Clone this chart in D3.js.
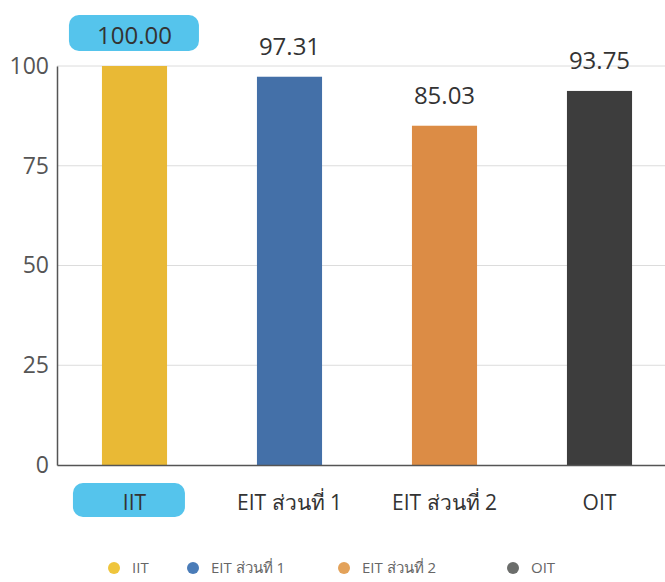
<!DOCTYPE html>
<html>
<head>
<meta charset="utf-8">
<script src="https://cdn.jsdelivr.net/npm/d3@7"></script>
<style>
  body { margin: 0; background: #fff; }
  text { font-family: "Open Sans", "Noto Sans", sans-serif; }
</style>
</head>
<body>
<div id="wrapper"></div>
<script>
// data
const categories = ["IIT", "EIT ส่วนที่ 1", "EIT ส่วนที่ 2", "OIT"]
const scores = [100.00, 97.31, 85.03, 93.75]
const barColors = ["#e9b935", "#4470a8", "#dc8c45", "#3d3d3d"]
const legendColors = ["#efc53c", "#4a7cb8", "#e3a25a", "#6b6d6b"]
const yTicks = [0, 25, 50, 75, 100]

const dimensions = {
  width: 665,
  height: 582,
  margin: { top: 66, right: 0, bottom: 117, left: 57 },
}
dimensions.boundedWidth = dimensions.width - dimensions.margin.left - dimensions.margin.right
dimensions.boundedHeight = dimensions.height - dimensions.margin.top - dimensions.margin.bottom

const wrapper = d3.select("#wrapper")
  .append("svg")
    .attr("width", dimensions.width)
    .attr("height", dimensions.height)

const bounds = wrapper.append("g")
  .attr("transform", `translate(${dimensions.margin.left},${dimensions.margin.top})`)

// scales
const xScale = d3.scaleBand()
  .domain(categories)
  .range([0, 620])
  .paddingInner(0.58)
  .paddingOuter(0.29)

const yScale = d3.scaleLinear()
  .domain([0, 100])
  .range([dimensions.boundedHeight, 0])

// grid
bounds.append("g")
  .selectAll("line")
  .data(yTicks.filter(d => d > 0))
  .join("line")
    .attr("x1", 0)
    .attr("x2", dimensions.boundedWidth)
    .attr("y1", d => yScale(d))
    .attr("y2", d => yScale(d))
    .attr("stroke", "#dcdcdc")
    .attr("stroke-width", 1)

// highlighter marks (cyan marker on the print)
const hl = "#55c4ec"
bounds.append("rect")
  .attr("x", xScale("IIT") - 33)
  .attr("y", yScale(100) - 51)
  .attr("width", 130)
  .attr("height", 36)
  .attr("rx", 10)
  .attr("fill", hl)
bounds.append("rect")
  .attr("x", xScale("IIT") - 29)
  .attr("y", dimensions.boundedHeight + 18)
  .attr("width", 112)
  .attr("height", 34)
  .attr("rx", 10)
  .attr("fill", hl)

// bars
bounds.append("g")
  .selectAll("rect")
  .data(scores)
  .join("rect")
    .attr("x", (d, i) => xScale(categories[i]))
    .attr("y", d => yScale(d))
    .attr("width", xScale.bandwidth())
    .attr("height", d => dimensions.boundedHeight - yScale(d))
    .attr("fill", (d, i) => barColors[i])

// value labels
bounds.append("g")
  .selectAll("text")
  .data(scores)
  .join("text")
    .attr("x", (d, i) => xScale(categories[i]) + xScale.bandwidth() / 2)
    .attr("y", d => yScale(d) - 22)
    .attr("text-anchor", "middle")
    .attr("font-size", 24)
    .attr("fill", "#333")
    .text(d => d.toFixed(2))

// axes
const yAxis = bounds.append("g")
  .call(d3.axisLeft(yScale).tickValues(yTicks).tickSize(0).tickPadding(8))
yAxis.select(".domain").attr("stroke", "#555").attr("stroke-width", 1.5)
yAxis.selectAll("text").attr("font-size", 23).attr("fill", "#555")

const xAxis = bounds.append("g")
  .attr("transform", `translate(0,${dimensions.boundedHeight})`)
  .call(d3.axisBottom(xScale).tickSize(0).tickPadding(30))
xAxis.select(".domain").attr("stroke", "#555").attr("stroke-width", 1.5)
xAxis.selectAll("text").attr("font-size", 21).attr("fill", "#333")

// legend
const legendX = [114, 193, 344, 513]
const legend = wrapper.append("g")
  .attr("transform", "translate(0,568)")
const legendItems = legend.selectAll("g")
  .data(categories)
  .join("g")
    .attr("transform", (d, i) => `translate(${legendX[i]},0)`)
legendItems.append("circle")
  .attr("r", 6)
  .attr("fill", (d, i) => legendColors[i])
legendItems.append("text")
  .attr("x", 18)
  .attr("dy", "0.35em")
  .attr("font-size", 15)
  .attr("fill", "#666")
  .text(d => d)
</script>
</body>
</html>
